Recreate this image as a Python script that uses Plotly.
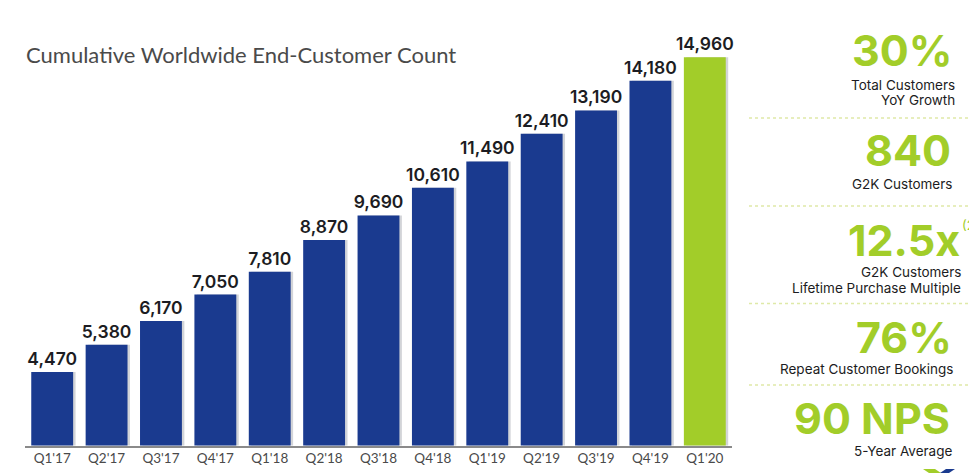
import plotly.graph_objects as go

W, H = 969, 473

quarters = ["Q1'17", "Q2'17", "Q3'17", "Q4'17", "Q1'18", "Q2'18", "Q3'18",
            "Q4'18", "Q1'19", "Q2'19", "Q3'19", "Q4'19", "Q1'20"]
customers = [4470, 5380, 6170, 7050, 7810, 8870, 9690,
             10610, 11490, 12410, 13190, 14180, 14960]

BLUE = '#1a3a8f'
GREEN = '#a2cd29'
TEXT = '#1c1c22'

# headline figures on the right: text, right edge px, centre y px
big_stats = [("30%", 952, 50), ("840", 951, 150), ("12.5x", 960, 240),
             ("76%", 952, 337), ("90 NPS", 950, 418)]
captions = [("Total Customers", 955, 85), ("YoY Growth", 955, 100),
            ("G2K Customers", 952, 184), ("G2K Customers", 961, 272),
            ("Lifetime Purchase Multiple", 961, 288),
            ("Repeat Customer Bookings", 953, 369), ("5-Year Average", 952, 451)]
divider_y = [118, 206, 303.5, 385]


def px(x):
    return x / W


def py(y):
    return 1 - y / H


fig = go.Figure()

# soft shadow behind the bars
fig.add_trace(go.Bar(
    x=quarters, y=customers, width=0.77, offset=-0.34,
    marker=dict(color='#d2d4d8', line_width=0),
    hoverinfo='skip', showlegend=False,
))

fig.add_trace(go.Bar(
    x=quarters, y=customers, width=0.77, offset=-0.385,
    marker=dict(color=[BLUE] * 12 + [GREEN], line_width=0),
    text=[f'{v:,}' for v in customers],
    textposition='outside',
    constraintext='none',
    textfont=dict(family='Inter', size=17.5, color=TEXT, weight=600),
    cliponaxis=False,
    showlegend=False,
))

fig.add_annotation(x=px(26), y=py(55), xref='paper', yref='paper', xanchor='left',
                   yanchor='middle', showarrow=False, xshift=-2,
                   text='Cumulative Worldwide End-Customer Count',
                   font=dict(family='Lato', size=22, color='#4a4a4a'))

for label, right, cy in big_stats:
    fig.add_annotation(x=px(right), y=py(cy), xref='paper', yref='paper', xanchor='right',
                       yanchor='middle', showarrow=False, text=f'<b>{label}</b>',
                       xshift=2, font=dict(family='Inter', size=43, color=GREEN))

# footnote marker, cut by the page edge
fig.add_annotation(x=px(960), y=py(225), xref='paper', yref='paper', xanchor='left',
                   yanchor='middle', showarrow=False, text='(2)',
                   font=dict(family='Inter', size=13, color=GREEN))

for label, right, cy in captions:
    fig.add_annotation(x=px(right), y=py(cy), xref='paper', yref='paper', xanchor='right',
                       yanchor='middle', showarrow=False, text=label, xshift=2,
                       font=dict(family='Inter', size=13.5, color=TEXT))

for y in divider_y:
    fig.add_shape(type='line', xref='paper', yref='paper', x0=px(749), x1=1,
                  y0=py(y), y1=py(y), line=dict(color='#dfe9a8', width=1.5, dash='dot'))

# piece of the logo at the bottom edge
fig.add_shape(type='path', xref='paper', yref='paper', line_width=0, fillcolor=GREEN,
              path=f'M {px(923)} {py(469)} L {px(935)} {py(469)} L {px(941)} {py(473)} L {px(929)} {py(473)} Z')
fig.add_shape(type='path', xref='paper', yref='paper', line_width=0, fillcolor=BLUE,
              path=f'M {px(946)} {py(469)} L {px(955)} {py(469)} L {px(949)} {py(473)} L {px(940)} {py(473)} Z')

fig.update_layout(
    width=W, height=H,
    margin=dict(l=0, r=0, t=0, b=0),
    paper_bgcolor='white', plot_bgcolor='white',
    barmode='overlay',
    font=dict(family='Lato'),
    xaxis=dict(domain=[px(25), px(732)], range=[-0.5, 12.5], type='category',
               categoryorder='array', categoryarray=quarters,
               showgrid=False, ticks='', showline=True, linecolor='#8a8a8a', linewidth=1.5,
               tickfont=dict(family='Lato', size=13.5, color='#4a4a4a')),
    yaxis=dict(domain=[py(445.5), py(20)], range=[2020, 16203], visible=False),
)

fig.write_html("out.html", config={'displayModeBar': False},
               post_script="document.body.style.margin='0';")
